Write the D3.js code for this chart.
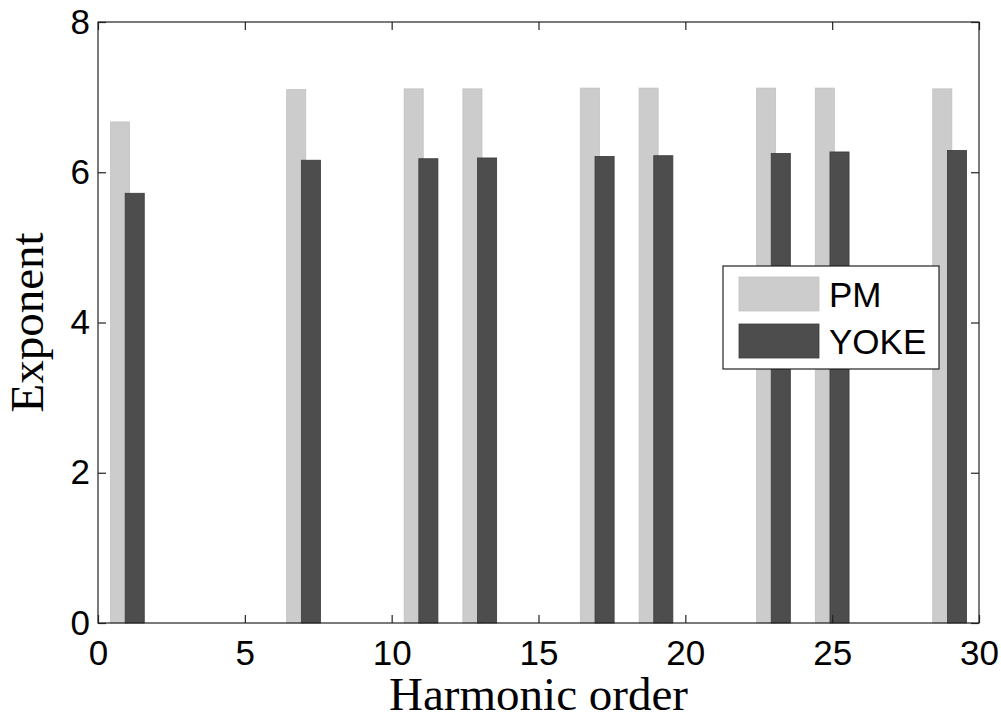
<!DOCTYPE html>
<html>
<head>
<meta charset="utf-8">
<script src="https://cdn.jsdelivr.net/npm/d3@7"></script>
<style>
  body { margin: 0; background: #fff; }
  svg { display: block; }
</style>
</head>
<body>
<svg width="1001" height="715"></svg>
<script>
// harmonic orders and exponents
const orders = [1, 7, 11, 13, 17, 19, 23, 25, 29];
const pmValues = [6.67, 7.10, 7.11, 7.11, 7.12, 7.12, 7.12, 7.12, 7.11];
const yokeValues = [5.72, 6.16, 6.18, 6.19, 6.21, 6.22, 6.25, 6.27, 6.29];
const xTicks = [0, 5, 10, 15, 20, 25, 30];
const yTicks = [0, 2, 4, 6, 8];
const seriesNames = ['PM', 'YOKE'];

const svg = d3.select('svg');
const plotLeft = 98, plotRight = 979, plotTop = 22, plotBottom = 623;

const x = d3.scaleLinear().domain([0, 30]).range([plotLeft, plotRight]);
const y = d3.scaleLinear().domain([0, 8]).range([plotBottom, plotTop]);

const sansFont = '"Liberation Sans", Arial, sans-serif';
const serifFont = '"Liberation Serif", "Times New Roman", serif';

// bars: PM drawn first, YOKE overlaps on top
const barW = 0.65;
const series = [
    { name: 'PM', values: pmValues, offset: -0.25, fill: '#cccccc', stroke: '#c2c2c2' },
    { name: 'YOKE', values: yokeValues, offset: 0.25, fill: '#4d4d4d', stroke: '#3a3a3a' }
];

series.forEach(s => {
    svg.append('g')
        .selectAll('rect')
        .data(orders)
        .enter()
        .append('rect')
        .attr('x', (d) => x(d + s.offset - barW / 2))
        .attr('width', x(barW) - x(0))
        .attr('y', (d, i) => y(s.values[i]))
        .attr('height', (d, i) => y(0) - y(s.values[i]))
        .attr('fill', s.fill)
        .attr('stroke', s.stroke)
        .attr('stroke-width', 0.8);
});

// axes, ticks pointing inside
const xAxis = svg.append('g')
    .attr('transform', `translate(0,${plotBottom})`)
    .call(d3.axisBottom(x).tickValues(xTicks).tickSizeInner(-8).tickSizeOuter(0).tickPadding(17));
const yAxis = svg.append('g')
    .attr('transform', `translate(${plotLeft},0)`)
    .call(d3.axisLeft(y).tickValues(yTicks).tickSizeInner(-8).tickSizeOuter(0).tickPadding(8));
const xTop = svg.append('g')
    .attr('transform', `translate(0,${plotTop})`)
    .call(d3.axisTop(x).tickValues(xTicks).tickSizeInner(-8).tickSizeOuter(0).tickFormat(''));
const yRight = svg.append('g')
    .attr('transform', `translate(${plotRight},0)`)
    .call(d3.axisRight(y).tickValues(yTicks).tickSizeInner(-8).tickSizeOuter(0).tickFormat(''));

[xAxis, yAxis, xTop, yRight].forEach(a => {
    a.select('.domain').remove();
    a.selectAll('line').attr('stroke', '#222').attr('stroke-width', 1.2);
    a.selectAll('text')
        .attr('font-family', sansFont)
        .attr('font-size', 35)
        .attr('fill', '#000');
});

// frame
svg.append('rect')
    .attr('x', plotLeft).attr('y', plotTop)
    .attr('width', plotRight - plotLeft).attr('height', plotBottom - plotTop)
    .attr('fill', 'none')
    .attr('stroke', '#222')
    .attr('stroke-width', 1.2);

// axis labels
svg.append('text')
    .attr('x', (plotLeft + plotRight) / 2)
    .attr('y', 710)
    .attr('text-anchor', 'middle')
    .attr('font-family', serifFont)
    .attr('font-size', 47)
    .text('Harmonic order');

svg.append('text')
    .attr('transform', `translate(43,${(plotTop + plotBottom) / 2}) rotate(-90)`)
    .attr('text-anchor', 'middle')
    .attr('font-family', serifFont)
    .attr('font-size', 47)
    .text('Exponent');

// legend
const legend = svg.append('g').attr('transform', 'translate(723,266)');
legend.append('rect')
    .attr('width', 216).attr('height', 103)
    .attr('fill', '#fff')
    .attr('stroke', '#222')
    .attr('stroke-width', 1.2);

const items = legend.selectAll('g.item')
    .data(series)
    .enter()
    .append('g')
    .attr('transform', (d, i) => `translate(16,${11 + i * 47})`);
items.append('rect')
    .attr('width', 80).attr('height', 34)
    .attr('fill', (d) => d.fill)
    .attr('stroke', (d) => d.stroke)
    .attr('stroke-width', 0.8);
items.append('text')
    .attr('x', 90)
    .attr('y', 17)
    .attr('dy', '0.36em')
    .attr('font-family', sansFont)
    .attr('font-size', 35)
    .text((d, i) => seriesNames[i]);
</script>
</body>
</html>
